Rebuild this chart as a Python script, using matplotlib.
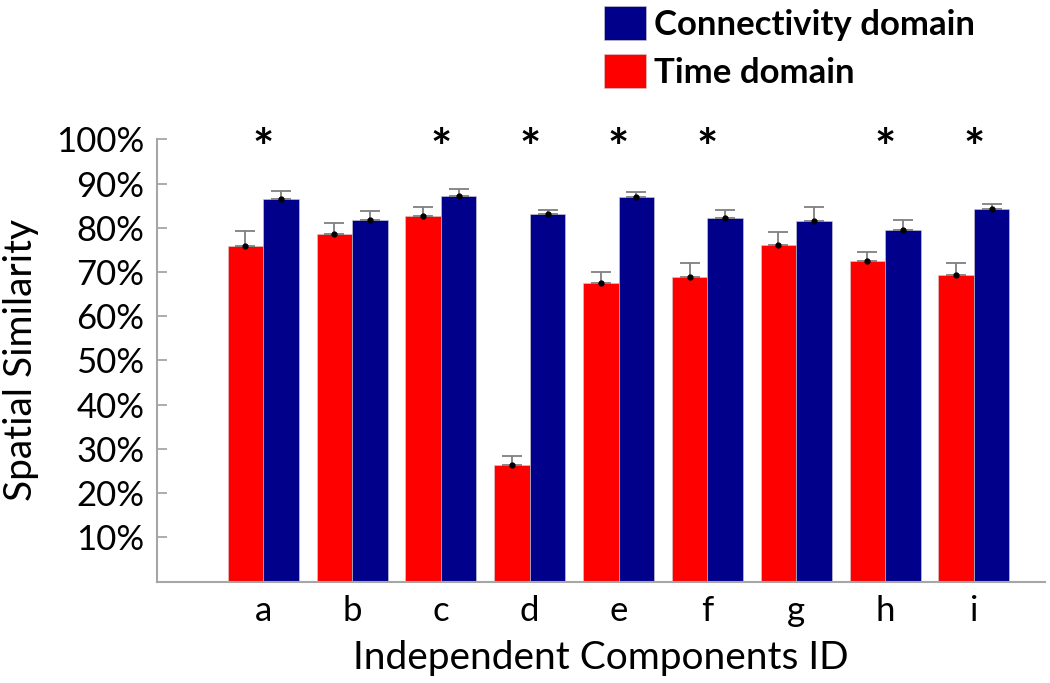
import numpy as np
import matplotlib
matplotlib.use("Agg")
import matplotlib.pyplot as plt

plt.rcParams["font.family"] = ["Lato", "DejaVu Sans"]

## Data
components = ["a", "b", "c", "d", "e", "f", "g", "h", "i"]
time_domain = [0.759, 0.786, 0.827, 0.263, 0.676, 0.689, 0.761, 0.724, 0.693]
time_err = [0.035, 0.025, 0.021, 0.020, 0.024, 0.032, 0.030, 0.021, 0.028]
conn_domain = [0.865, 0.818, 0.871, 0.831, 0.869, 0.822, 0.816, 0.795, 0.843]
conn_err = [0.019, 0.020, 0.016, 0.010, 0.013, 0.019, 0.032, 0.022, 0.012]
significant = ["a", "c", "d", "e", "f", "h", "i"]

red = "#FF0000"
blue = "#00008B"
grey = "#A6A6A6"

fig = plt.figure(figsize=(10.5, 6.83), dpi=100)
ax = fig.add_axes([0.1492, 0.1486, 0.846, 0.6472])

x = np.arange(len(components))
w = 0.4

# bars
ax.bar(x - w / 2, time_domain, w, color=red, edgecolor="#d0d0d0", linewidth=0.4, label="Time domain")
ax.bar(x + w / 2, conn_domain, w, color=blue, edgecolor="#d0d0d0", linewidth=0.4, label="Connectivity domain")

# one-sided error bars, grey stems with black dot at the mean
for xs, vals, errs in [(x - w / 2, time_domain, time_err), (x + w / 2, conn_domain, conn_err)]:
    ax.errorbar(xs, vals, yerr=[np.zeros(len(errs)), errs], fmt="none",
                ecolor="#7f7f7f", elinewidth=1.3, capsize=7, capthick=1.3)
    ax.plot(xs, vals, "o", color="black", markersize=3.5, zorder=5)

# significance stars
for c in significant:
    i = components.index(c)
    ax.text(x[i], 0.925, "*", ha="center", va="bottom", fontsize=36,
            fontweight="bold", clip_on=False)

ax.set_xlim(-1.2, 8.8)
ax.set_ylim(0, 1.0)
ax.set_yticks(np.arange(0.1, 1.01, 0.1))
ax.set_yticklabels([f"{int(round(t * 100))}%" for t in np.arange(0.1, 1.01, 0.1)])
ax.set_xticks(x)
ax.set_xticklabels(components)

for s in ["top", "right"]:
    ax.spines[s].set_visible(False)
for s in ["left", "bottom"]:
    ax.spines[s].set_color(grey)
    ax.spines[s].set_linewidth(1.5)

ax.tick_params(axis="y", direction="in", length=7, width=1.3, color=grey,
               labelsize=25, pad=9)
ax.tick_params(axis="x", length=0, labelsize=25, pad=10)

ax.set_ylabel("Spatial Similarity", fontsize=28, labelpad=12)
ax.set_xlabel("Independent Components ID", fontsize=28, labelpad=9)

# legend above the plot on the right
handles, labels = ax.get_legend_handles_labels()
fig.legend(handles[::-1], labels[::-1], loc="upper left",
           bbox_to_anchor=(0.562, 1.012), frameon=False,
           prop={"size": 25, "weight": "bold"},
           handlelength=1.2, handleheight=1.15, handletextpad=0.25,
           labelspacing=0.38, borderaxespad=0)

fig.savefig("out.png", dpi=100)
